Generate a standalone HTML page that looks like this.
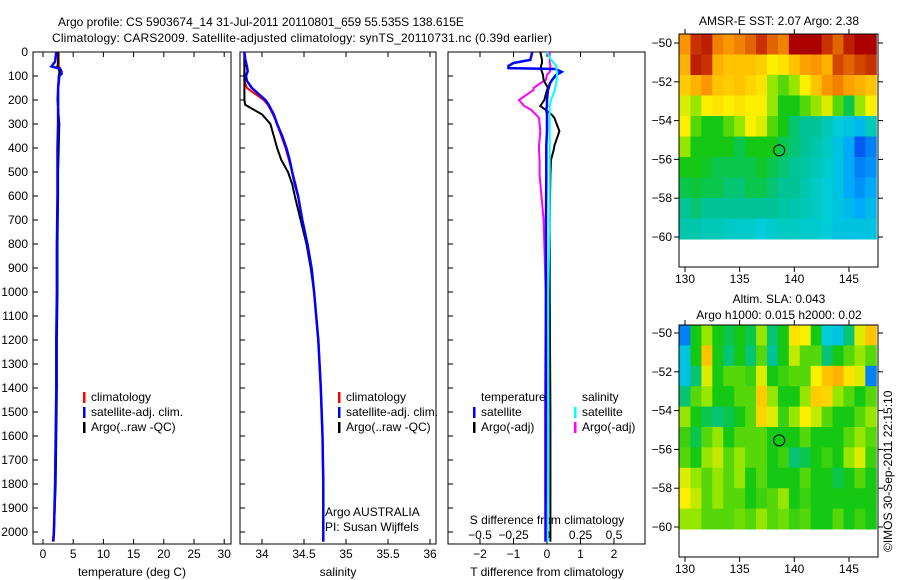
<!DOCTYPE html>
<html><head><meta charset="utf-8">
<style>
body{margin:0;background:#fff;}
svg{display:block;font-family:"Liberation Sans",sans-serif;font-size:12px;}
</style></head>
<body>
<svg id="fig" width="900" height="580" viewBox="0 0 900 580">
<g id="static">
<text x="58" y="26">Argo profile: CS 5903674_14 31-Jul-2011 20110801_659 55.535S 138.615E</text>
<text x="52" y="42" textLength="500">Climatology: CARS2009. Satellite-adjusted climatology: synTS_20110731.nc (0.39d earlier)</text>
<text x="132" y="576" text-anchor="middle">temperature (deg C)</text>
<text x="338" y="576" text-anchor="middle">salinity</text>
<text x="547" y="576" text-anchor="middle">T difference from climatology</text>
<text x="547" y="524" text-anchor="middle">S difference from climatology</text>
<text x="325" y="516">Argo AUSTRALIA</text>
<text x="325" y="531">PI: Susan Wijffels</text>
<text x="779" y="25" text-anchor="middle">AMSR-E SST: 2.07  Argo: 2.38</text>
<text x="779" y="303" text-anchor="middle">Altim. SLA: 0.043</text>
<text x="779" y="319" text-anchor="middle">Argo h1000: 0.015 h2000: 0.02</text>
<text transform="translate(892,552) rotate(-90)">©IMOS 30-Sep-2011 22:15:10</text>
</g>
</svg>
<script>
// ---- profile data ----
const tDepth=[0,20,40,60,70,80,90,100,150,200,300,400,500,600,800,1000,1200,1400,1600,1800,2000,2040];
const tArgo=[2.5,2.5,2.5,2.4,2.6,2.7,2.7,2.6,2.5,2.4,2.7,2.6,2.5,2.5,2.4,2.4,2.3,2.3,2.2,2.1,1.8,1.7];
const tSat=[2.2,2.1,2.0,1.4,2.8,3.0,3.1,2.7,2.5,2.5,2.5,2.4,2.4,2.4,2.3,2.3,2.2,2.2,2.1,2.0,1.8,1.7];
const tClim=[2.6,2.6,2.6,2.6,2.9,3.1,3.0,2.7,2.5,2.5,2.5,2.5,2.4,2.4,2.3,2.3,2.2,2.2,2.1,2.0,1.8,1.6];
const sDepth=[0,30,60,80,100,120,150,200,220,240,260,300,350,400,450,500,550,600,700,800,900,1000,1200,1400,1600,1800,2000,2040];
const sArgo=[33.79,33.79,33.79,33.79,33.79,33.79,33.79,33.79,33.8,33.9,34.0,34.1,34.14,34.18,34.23,34.31,34.36,34.39,34.46,34.53,34.58,34.62,34.67,34.7,34.72,34.73,34.73,34.73];
const sSat=[33.79,33.8,33.82,33.83,33.81,33.82,33.88,34.04,34.08,34.11,34.14,34.18,34.24,34.29,34.33,34.36,34.39,34.43,34.48,34.54,34.59,34.62,34.67,34.7,34.72,34.73,34.73,34.73];
const sClim=[33.79,33.79,33.79,33.79,33.79,33.79,33.82,34.02,34.07,34.1,34.13,34.18,34.23,34.28,34.32,34.36,34.4,34.43,34.48,34.54,34.59,34.62,34.67,34.7,34.72,34.73,34.73,34.73];
const dDepth=[0,33,46,58,67,71,83,96,117,130,150,158,200,225,240,262,275,330,390,408,450,512,700,1000,1500,2000,2040];
const dTSat=[-0.44,-0.5,-1.0,-1.15,-1.15,0.25,0.44,0.27,0.15,0.09,0.05,0.03,0,0,-0.02,0,0,0,-0.02,-0.02,-0.02,-0.02,-0.03,-0.03,-0.03,-0.03,-0.03];
const dTArgo=[-0.2,-0.15,-0.15,-0.18,-0.18,-0.18,-0.15,-0.12,-0.1,-0.05,0.03,0,-0.08,-0.2,-0.05,0.15,0.22,0.37,0.22,0.2,0.12,0.1,0.08,0.08,0.1,0.1,0.1];
const dSSat=[0,0.03,0.05,0.07,0.07,0.07,0.075,0.075,0.07,0.07,0.06,0.06,0.03,0.02,0.02,0.02,0.02,0.02,0.02,0.02,0.02,0.02,0.02,0.01,0.01,0.005,0.005];
const dSArgo=[0.02,0.02,0.02,0.025,0.025,0.025,0.02,0.0,-0.01,-0.05,-0.1,-0.1,-0.21,-0.17,-0.12,-0.08,-0.06,-0.05,-0.06,-0.06,-0.055,-0.055,-0.025,-0.01,-0.015,-0.015,-0.015];
const depthTicks=[0,100,200,300,400,500,600,700,800,900,1000,1100,1200,1300,1400,1500,1600,1700,1800,1900,2000];
const tTicks=[0,5,10,15,20,25,30];
const sTicks=[34,34.5,35,35.5,36];
const sTickLabels=["34","34.5","35","35.5","36"];
const dTTicks=[-2,-1,0,1,2];
const dSTicks=[-0.5,-0.25,0,0.25,0.5];
const dSTickLabels=["\u22120.5","\u22120.25","0","0.25","0.5"];
// ---- map data (rows lat -50..-60, cols lon 130..147) colour index 0..1 ----
const sstGrid=[
[.8,.9,.92,.82,.8,.82,.85,.9,.85,.82,.95,.95,.95,.9,.85,.92,.95,.95],
[.75,.92,.9,.75,.72,.72,.72,.7,.62,.65,.72,.78,.8,.75,.88,.85,.88,.9],
[.7,.75,.8,.72,.7,.72,.68,.65,.55,.5,.55,.62,.72,.8,.82,.78,.75,.72],
[.6,.55,.62,.65,.62,.65,.62,.62,.55,.45,.45,.5,.55,.6,.5,.42,.55,.62],
[.62,.5,.45,.45,.5,.55,.62,.6,.5,.45,.4,.38,.38,.35,.32,.3,.28,.35],
[.55,.45,.45,.45,.45,.42,.45,.45,.45,.42,.4,.38,.36,.34,.3,.25,.15,.2],
[.45,.45,.44,.42,.42,.42,.42,.44,.42,.4,.38,.37,.35,.33,.3,.25,.2,.22],
[.42,.43,.42,.42,.4,.4,.42,.42,.4,.38,.38,.36,.34,.32,.3,.25,.22,.25],
[.38,.4,.38,.38,.38,.38,.38,.38,.38,.37,.36,.35,.34,.32,.3,.28,.25,.28],
[.36,.36,.35,.35,.34,.33,.33,.32,.33,.34,.34,.33,.33,.32,.3,.3,.3,.3]];
const slaGrid=[
[.2,.45,.55,.45,.42,.45,.42,.55,.4,.45,.65,.62,.45,.32,.3,.4,.6,.72],
[.3,.45,.72,.45,.4,.45,.4,.5,.38,.45,.58,.5,.5,.4,.45,.5,.55,.5],
[.3,.4,.6,.45,.5,.5,.48,.6,.45,.48,.5,.5,.62,.72,.75,.65,.6,.2],
[.4,.5,.55,.45,.45,.5,.5,.7,.55,.45,.45,.55,.7,.68,.55,.5,.45,.5],
[.55,.45,.42,.4,.42,.45,.5,.68,.6,.48,.55,.62,.58,.5,.45,.45,.5,.55],
[.48,.42,.5,.55,.45,.5,.5,.5,.45,.45,.45,.5,.45,.45,.45,.5,.55,.5],
[.5,.45,.55,.58,.5,.55,.5,.5,.45,.48,.4,.42,.45,.48,.45,.55,.6,.48],
[.6,.55,.5,.55,.5,.55,.45,.5,.45,.45,.45,.5,.45,.45,.42,.45,.5,.45],
[.62,.58,.5,.55,.5,.5,.45,.48,.5,.55,.45,.48,.45,.45,.45,.45,.45,.45],
[.55,.55,.5,.5,.5,.52,.5,.55,.5,.52,.48,.5,.45,.45,.5,.45,.48,.45]];
const lonTicks=[130,135,140,145];
const latTicks=[-50,-52,-54,-56,-58,-60];
const argoPos=[138.615,-55.535];

const NS="http://www.w3.org/2000/svg";
const svg=document.getElementById('fig');
function mk(tag,attrs,parent){const e=document.createElementNS(NS,tag);for(const k in attrs)e.setAttribute(k,attrs[k]);(parent||svg).appendChild(e);return e;}
const yD=d=>52+d*0.24;
const BOT=544;
function panel(x0,x1,name){const r=mk('rect',{x:x0,y:52,width:x1-x0,height:BOT-52,fill:'none',stroke:'#000','stroke-width':1});

}
function line(xs,ds,fx,col,w,name){const p=mk('polyline',{points:xs.map((v,i)=>fx(v).toFixed(1)+','+yD(ds[i]).toFixed(1)).join(' '),fill:'none',stroke:col,'stroke-width':w});

}
function xtick(x,lab,y,name){mk('line',{x1:x,x2:x,y1:BOT,y2:BOT-5,stroke:'#000'});mk('line',{x1:x,x2:x,y1:52,y2:57,stroke:'#000'});
const t=mk('text',{x:x,y:y,'text-anchor':'middle'});t.textContent=lab;

}
function legend(x,y,col,txt,name){mk('rect',{x:x,y:y-9,width:2.5,height:11,fill:col});const t=mk('text',{x:x+8,y:y});t.textContent=txt;

}

// panel 1 temperature
const fT=v=>43+(v-0)*6.04;
panel(33,231,'temperature-panel');
depthTicks.forEach(d=>{mk('line',{x1:33,x2:38,y1:yD(d),y2:yD(d),stroke:'#000'});mk('line',{x1:240,x2:245,y1:yD(d),y2:yD(d),stroke:'#000'});mk('line',{x1:448,x2:453,y1:yD(d),y2:yD(d),stroke:'#000'});
const t=mk('text',{x:28,y:yD(d)+4,'text-anchor':'end'});t.textContent=d;

});
tTicks.forEach(v=>xtick(fT(v),v,558,'temperature-tick-label'));
line(tClim,tDepth,fT,'#f00',2,'temperature-climatology-line');
line(tArgo,tDepth,fT,'#000',2,'temperature-argo-line');
line(tSat,tDepth,fT,'#00f',2.5,'temperature-satellite-line');
legend(83,401,'#f00','climatology','temp-legend-climatology');
legend(83,416,'#00f','satellite-adj. clim.','temp-legend-satellite');
legend(83,431,'#000','Argo(..raw -QC)','temp-legend-argo');

// panel 2 salinity
const fS=v=>262+(v-34)*84;
panel(240,436,'salinity-panel');
sTicks.forEach((v,i)=>xtick(fS(v),sTickLabels[i],558,'salinity-tick-label'));
line(sClim,sDepth,fS,'#f00',2,'salinity-climatology-line');
line(sArgo,sDepth,fS,'#000',2,'salinity-argo-line');
line(sSat,sDepth,fS,'#00f',2.5,'salinity-satellite-line');
legend(338,401,'#f00','climatology','sal-legend-climatology');
legend(338,416,'#00f','satellite-adj. clim.','sal-legend-satellite');
legend(338,431,'#000','Argo(..raw -QC)','sal-legend-argo');

// panel 3 differences
const fDT=v=>547+v*33.5;
const fDS=v=>547+v*134;
panel(448,645,'difference-panel');
dTTicks.forEach(v=>xtick(fDT(v),v===0?'0':(v<0?'\u2212'+(-v):v),558,'t-diff-tick-label'));
dSTicks.forEach((v,i)=>{const t=mk('text',{x:fDS(v),y:539,'text-anchor':'middle'});t.textContent=dSTickLabels[i];

});
line(dSArgo,dDepth,fDS,'#f0f',2,'s-diff-argo-line');
line(dTArgo,dDepth,fDT,'#000',2,'t-diff-argo-line');
line(dTSat,dDepth,fDT,'#00f',2.5,'t-diff-satellite-line');
line(dSSat,dDepth,fDS,'#0ff',2,'s-diff-satellite-line');
{const t=mk('text',{x:481,y:401});t.textContent='temperature';


const s=mk('text',{x:582,y:401});s.textContent='salinity';

}
legend(473,416,'#00f','satellite','diff-legend-t-satellite');
legend(473,431,'#000','Argo(-adj)','diff-legend-t-argo');
legend(574,416,'#0ff','satellite','diff-legend-s-satellite');
legend(574,431,'#f0f','Argo(-adj)','diff-legend-s-argo');

// ---- maps ----
const cmapStops=[[0,[0,0,190]],[0.15,[0,90,240]],[0.25,[0,170,250]],[0.32,[0,205,215]],[0.38,[0,195,150]],[0.45,[20,200,20]],[0.55,[150,230,0]],[0.62,[250,240,0]],[0.72,[255,195,0]],[0.8,[250,150,0]],[0.88,[210,70,0]],[0.95,[170,0,0]],[1,[150,0,0]]];
function cmap(v){for(let i=1;i<cmapStops.length;i++){if(v<=cmapStops[i][0]){const a=cmapStops[i-1],b=cmapStops[i];const t=(v-a[0])/(b[0]-a[0]);
return 'rgb('+a[1].map((c,k)=>Math.round(c+(b[1][k]-c)*t)).join(',')+')';}}return 'rgb(150,0,0)';}
function map(grid,top,latTop,latBot,dataBot,name,cellName){
const L=679,R=878,pxLon=10.93,lon0=130;
const fx=lon=>685+(lon-lon0)*pxLon;
const fy=lat=>latTop+(-50-lat)*(latBot-latTop)/10;
const g=mk('g',{});


const nr=grid.length,rh=(dataBot-top)/nr;
grid.forEach((row,i)=>row.forEach((v,j)=>{
const x0=Math.max(L,fx(130+j-0.5)),x1=Math.min(R,fx(130+j+0.5));
const y0=top+i*rh;
const r=mk('rect',{x:x0,y:y0,width:x1-x0+0.5,height:rh+0.5,fill:cmap(v)},g);

}));
return {fx,fy};}
function frame(top,bot,fx,fy,axisLabY,name){
const r=mk('rect',{x:679,y:top,width:199,height:bot-top,fill:'none',stroke:'#000'});


lonTicks.forEach(l=>{mk('line',{x1:fx(l),x2:fx(l),y1:bot,y2:bot+5,stroke:'#000'});mk('line',{x1:fx(l),x2:fx(l),y1:top,y2:top-5,stroke:'#000'});
const t=mk('text',{x:fx(l),y:axisLabY,'text-anchor':'middle'});t.textContent=l;

});
latTicks.forEach(l=>{mk('line',{x1:679,x2:674,y1:fy(l),y2:fy(l),stroke:'#000'});mk('line',{x1:878,x2:883,y1:fy(l),y2:fy(l),stroke:'#000'});
const t=mk('text',{x:672,y:fy(l)+4,'text-anchor':'end'});t.textContent=(l<0?'\u2212'+(-l):l);

});
const c=mk('circle',{cx:fx(argoPos[0]),cy:fy(argoPos[1]),r:5.5,fill:'none',stroke:'#000'});

}
const m1=map(sstGrid,34,43,237,239,'sst-map','sst-cell');
frame(34,267,m1.fx,m1.fy,283,'sst-map-frame');
const m2=map(slaGrid,325,333,527,529,'sla-map','sla-cell');
frame(325,557,m2.fx,m2.fy,573,'sla-map-frame');
</script>
</body></html>
